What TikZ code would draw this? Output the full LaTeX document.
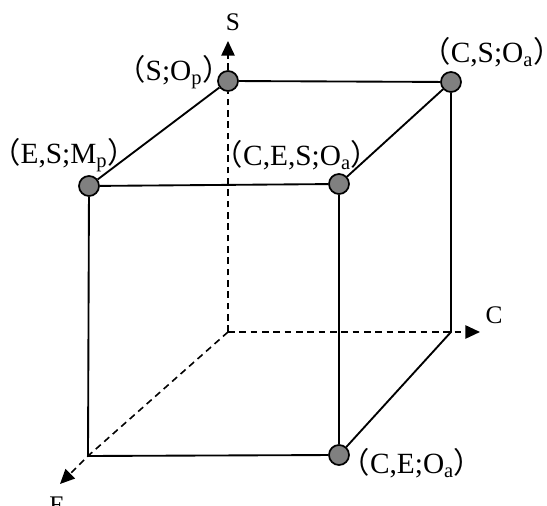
\documentclass[tikz,border=0pt]{standalone}
\usepackage{fontspec}
\setmainfont{Liberation Serif}
\newfontfamily\cjk{Noto Sans CJK SC}
\usepackage{tikz}
\usetikzlibrary{arrows.meta,calc}

\begin{document}
\begin{tikzpicture}[
  x=0.75pt,
  y=0.75pt,
  edge/.style={draw=black, line width=1.4pt},
  axisline/.style={draw=black, line width=1.2pt, dash pattern=on 5pt off 3.5pt},
  tip/.style={-{Triangle[length=11pt,width=10pt]}},
  state/.style={circle, draw=black, line width=1.3pt, fill=black!50,
    minimum size=15pt, inner sep=0pt},
  lbl/.style={font=\fontsize{22}{24}\selectfont, inner sep=0pt},
  axlbl/.style={font=\fontsize{19}{21}\selectfont, inner sep=0pt}
]
  \useasboundingbox (0,0) rectangle (547,506);

  % corners of the cube
  \coordinate (o) at (228,174);
  \coordinate (cr) at (451,174);
  \coordinate (fbl) at (88,50);
  \coordinate (stip) at (228,465);
  \coordinate (ctip) at (480,174);
  \coordinate (etip) at (60,22);

  \node[state] (sop) at (228,425) {};
  \node[state] (csoa) at (451,424) {};
  \node[state] (esmp) at (89,320) {};
  \node[state] (cesoa) at (339,322) {};
  \node[state] (ceoa) at (339,51) {};

  % axes
  \draw[axisline] (o) -- (sop);
  \draw[axisline, tip] (sop) -- (stip);
  \draw[axisline, tip] (o) -- (ctip);
  \draw[axisline, tip] (o) -- (fbl) -- (etip);

  % edges
  \draw[edge] (esmp) -- (sop);
  \draw[edge] (sop) -- (csoa);
  \draw[edge] (esmp) -- (cesoa);
  \draw[edge] (cesoa) -- (csoa);
  \draw[edge] (esmp) -- (fbl) -- (ceoa);
  \draw[edge] (cesoa) -- (ceoa);
  \draw[edge] (csoa) -- (cr) -- (ceoa);

  % labels
  \node[lbl] (lsop) at (174,434) {{\cjk （}S;O\textsubscript{p}{\cjk ）}};
  \node[lbl] (lcsoa) at (492,454) {{\cjk （}C,S;O\textsubscript{a}{\cjk ）}};
  \node[lbl] (lesmp) at (64,351) {{\cjk （}E,S;M\textsubscript{p}{\cjk ）}};
  \node[lbl] (lcesoa) at (297,351) {{\cjk （}C,E,S;O\textsubscript{a}{\cjk ）}};
  \node[lbl] (lceoa) at (412,43) {{\cjk （}C,E;O\textsubscript{a}{\cjk ）}};

  \node[axlbl] (sname) at (233,484) {S};
  \node[axlbl] (cname) at (494,191) {C};
  \node[axlbl] (ename) at (57,1) {E};
\end{tikzpicture}
\end{document}
